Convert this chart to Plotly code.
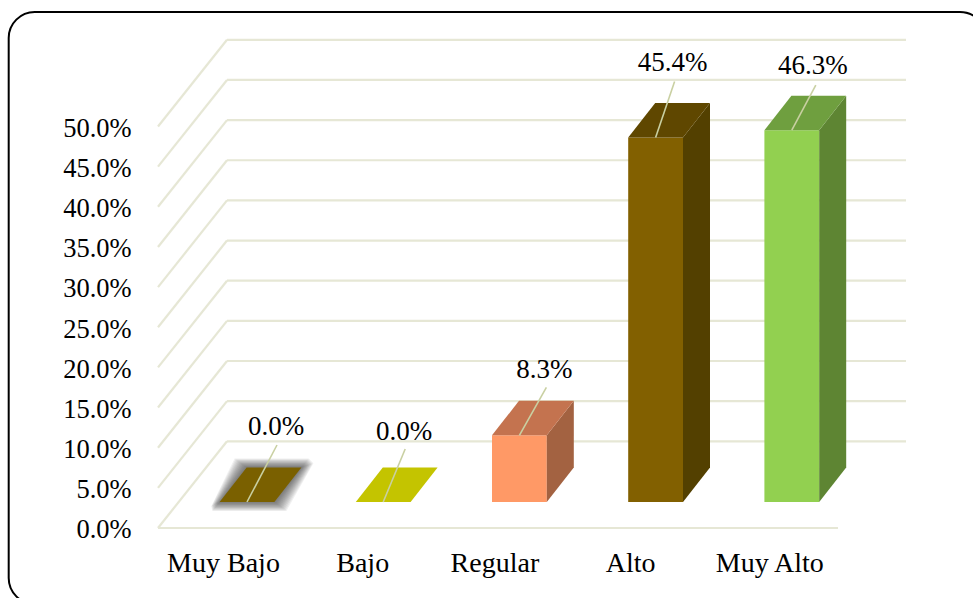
import plotly.graph_objects as go

categories = ["Muy Bajo", "Bajo", "Regular", "Alto", "Muy Alto"]
values = [0.0, 0.0, 8.3, 45.4, 46.3]
y_ticks = [0, 5, 10, 15, 20, 25, 30, 35, 40, 45, 50]

front_colors = ["#7a6000", "#c4c400", "#ff9966", "#826000", "#92d050"]
top_colors = ["#7a6000", "#c4c400", "#c4734f", "#5f4700", "#6f9f3f"]
side_colors = ["#7a6000", "#c4c400", "#a36241", "#534000", "#5e8533"]
GRID = "#e6e7d5"
LEADER = "#c9d0a2"
FONT = "Liberation Serif"

# scale: pixels per category / per percentage point
CAT_PX = 136.2
PCT_PX = 8.03
CENTER0 = 247.0
BASE_PX = 528
PAD_PX = 4          # room under the floor line so it is not clipped
L, R, T = 157, 906, 32
W, H = 973, 598

def cx(p):
    return (p - CENTER0) / CAT_PX

def dx(p):
    return p / CAT_PX

def dy(p):
    return p / PCT_PX

def vy(p):
    return (BASE_PX - p) / PCT_PX

BAR_W = dx(54.8)
LIFT = dy(26)
D_X, D_Y = dx(27), dy(34.5)
WALL_X, WALL_Y = dx(69), dy(86.7)

label_off = [(29, 74), (21, 69), (25, 64), (17, 73), (21, 63)]
leader_off = [(30, 57), (22, 53), (27, 48), (19, 56), (24, 45)]
tick_off = [23.5, 20.5, 24.5, 25, 22]

fig = go.Figure()

# front faces
fig.add_trace(go.Bar(x=list(range(5)), y=values, base=[LIFT] * 5, width=BAR_W,
                     marker=dict(color=front_colors, line=dict(width=0))))

def poly(xs, ys, color):
    fig.add_trace(go.Scatter(x=xs + xs[:1], y=ys + ys[:1], mode="lines", fill="toself",
                             fillcolor=color, line=dict(width=0), cliponaxis=False))

# soft shadow under the first bar
for grow in [12, 11, 10, 9, 8, 7, 6, 5, 4, 3, 2, 1]:
    g_x, g_y = dx(grow), dy(grow * 0.75)
    x0, x1 = -BAR_W / 2 - g_x, BAR_W / 2 + g_x
    b, t = LIFT + values[0] - g_y, LIFT + values[0] + D_Y + g_y
    xr = x1 + D_X
    xl = x0 + D_X
    poly([x0 + 0.4 * g_x, x1, xr, xr - 0.4 * g_x, xl, x0 + 0.31 * g_x],
         [b, b, t - dy(0.4 * grow), t, t, b + dy(0.4 * grow)],
         "rgba(40,40,40,0.07)")

for i, v in enumerate(values):
    x0, x1 = i - BAR_W / 2, i + BAR_W / 2
    top = LIFT + v
    if v > 0:
        poly([x1, x1 + D_X, x1 + D_X, x1], [LIFT, LIFT + D_Y, top + D_Y, top], side_colors[i])
    poly([x0, x1, x1 + D_X, x0 + D_X], [top, top, top + D_Y, top + D_Y], top_colors[i])

# leader lines and data labels
for i, v in enumerate(values):
    top = LIFT + v
    fig.add_trace(go.Scatter(x=[i, i + dx(leader_off[i][0])], y=[top, top + dy(leader_off[i][1])],
                             mode="lines", line=dict(color=LEADER, width=1.6), cliponaxis=False))
    fig.add_trace(go.Scatter(x=[i + dx(label_off[i][0])], y=[top + dy(label_off[i][1])],
                             mode="text", text=[f"{v:.1f}%"], textposition="middle center",
                             textfont=dict(family=FONT, size=27, color="#000000"),
                             cliponaxis=False))

# walls and floor
shapes = []
x_left, x_right = cx(L + 1), cx(R)
for t in y_ticks:
    shapes.append(dict(type="line", layer="below", xref="x", yref="y",
                       x0=x_left, y0=t, x1=x_left + WALL_X, y1=t + WALL_Y,
                       line=dict(color=GRID, width=2.2)))
    shapes.append(dict(type="line", layer="below", xref="x", yref="y",
                       x0=x_left + WALL_X, y0=t + WALL_Y, x1=x_right, y1=t + WALL_Y,
                       line=dict(color=GRID, width=2.2)))
shapes.append(dict(type="line", layer="below", xref="x", yref="y",
                   x0=x_left, y0=0, x1=x_right - WALL_X + dx(1), y1=0,
                   line=dict(color=GRID, width=2.2)))

# rounded frame, running off the right and bottom edges (paper coordinates)
fx0, fy0, fx1, fy1, rad = 8.7, 12, 986, 604, 26
k = rad * 0.45
BOTTOM_PX = BASE_PX + PAD_PX

def P(px, py):
    return f"{(px - L) / (R - L):.5f},{(BOTTOM_PX - py) / (BOTTOM_PX - T):.5f}"

frame = (
    f"M {P(fx0, fy0 + rad)} C {P(fx0, fy0 + k)} {P(fx0 + k, fy0)} {P(fx0 + rad, fy0)} "
    f"L {P(fx1 - rad, fy0)} C {P(fx1 - k, fy0)} {P(fx1, fy0 + k)} {P(fx1, fy0 + rad)} "
    f"L {P(fx1, fy1 - rad)} C {P(fx1, fy1 - k)} {P(fx1 - k, fy1)} {P(fx1 - rad, fy1)} "
    f"L {P(fx0 + rad, fy1)} C {P(fx0 + k, fy1)} {P(fx0, fy1 - k)} {P(fx0, fy1 - rad)} Z"
)
shapes.append(dict(type="path", layer="above", xref="paper", yref="paper", path=frame,
                   line=dict(color="#000000", width=2)))

fig.update_layout(
    width=W, height=H, autosize=False, showlegend=False, hovermode=False,
    paper_bgcolor="#ffffff", plot_bgcolor="rgba(0,0,0,0)",
    margin=dict(l=L, r=W - R, t=T, b=H - BOTTOM_PX, pad=0, autoexpand=False),
    shapes=shapes,
    font=dict(family=FONT, size=27, color="#000000"),
    xaxis=dict(range=[cx(L), cx(R)], showgrid=False, zeroline=False, showline=False,
               tickmode="array", tickvals=[i - dx(tick_off[i]) for i in range(5)], ticktext=categories,
               ticks="outside", ticklen=9 - PAD_PX, tickcolor="rgba(0,0,0,0)", tickangle=0,
               tickfont=dict(family=FONT, size=28, color="#000000")),
    yaxis=dict(range=[vy(BOTTOM_PX), vy(T)], showgrid=False, zeroline=False, showline=False,
               tickmode="array", tickvals=y_ticks, ticktext=[f"{t:.1f}%" for t in y_ticks],
               ticks="outside", ticklen=19, tickcolor="rgba(0,0,0,0)", ticklabelshift=1,
               tickfont=dict(family=FONT, size=26.5, color="#000000")),
)

fig.write_html("out.html", config=dict(displayModeBar=False),
               post_script="document.body.style.margin='0';document.documentElement.style.overflow='hidden';")
